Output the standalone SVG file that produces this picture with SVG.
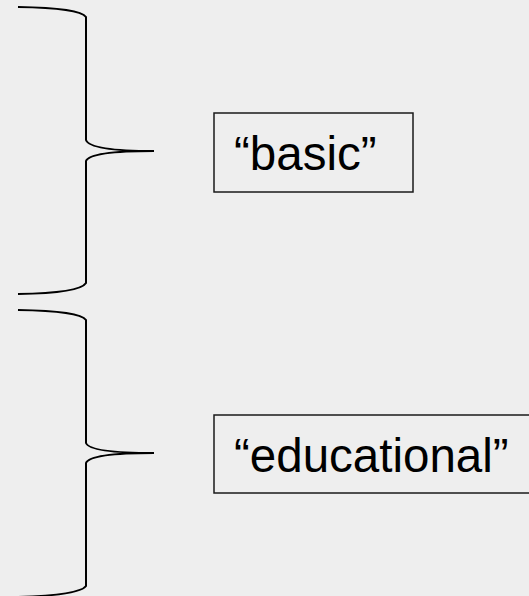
<svg xmlns="http://www.w3.org/2000/svg" width="529" height="596" viewBox="0 0 529 596">
  <style>
    .brace { fill: none; stroke: #000; stroke-width: 2; }
    .box { fill: none; stroke: #1a1a1a; stroke-width: 1.5; }
    .label { font-family: "Liberation Sans", Arial, sans-serif; font-size: 47.5px; fill: #000; }
  </style>
  <rect width="529" height="596" fill="#eeeeee"/>
  <g id="braces">
    <path class="brace" d="M18,7 Q80,8 86,17 L86,140 Q90,151 154,151 Q90,151 86,161 L86,283 Q80,293 18,294"/>
    <path class="brace" d="M18,310 Q80,311 86,320 L86,443 Q90,453 154,453 Q90,453 86,463 L86,586 Q80,595 18,597"/>
  </g>
  <g id="basic">
    <rect class="box" x="214" y="113" width="199" height="79"/>
    <text class="label" x="234" y="170">“basic”</text>
  </g>
  <g id="educational">
    <rect class="box" x="214" y="415" width="330" height="78"/>
    <text class="label" x="234" y="472">“educational”</text>
  </g>
</svg>
